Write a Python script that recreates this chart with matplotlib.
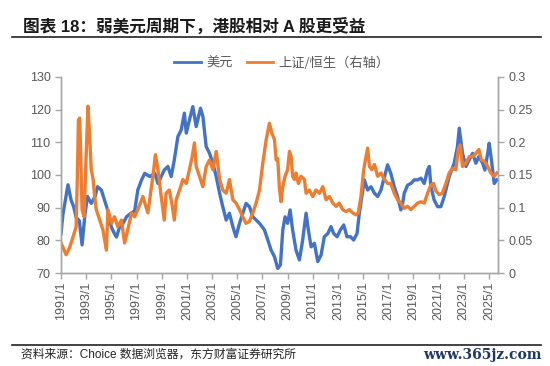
import matplotlib
matplotlib.use("Agg")
import matplotlib.pyplot as plt
from matplotlib.lines import Line2D

plt.rcParams['font.family'] = ['Liberation Sans', 'Noto Sans CJK SC', 'DejaVu Sans']

# US dollar index (left axis)
usd_years = [1991.0, 1991.15, 1991.3, 1991.55, 1991.8, 1992.0, 1992.2, 1992.45, 1992.67, 1992.9,
             1993.1, 1993.4, 1993.7, 1993.9, 1994.2, 1994.45, 1994.7, 1995.0, 1995.25, 1995.4,
             1995.65, 1995.9, 1996.2, 1996.45, 1996.85, 1997.1, 1997.4, 1997.65, 1998.05, 1998.45,
             1998.7, 1998.96, 1999.2, 1999.49, 1999.75, 2000.0, 2000.28, 2000.55, 2000.8, 2000.95,
             2001.2, 2001.47, 2001.74, 2002.08, 2002.27, 2002.53, 2002.8, 2003.06, 2003.33, 2003.6,
             2003.85, 2004.12, 2004.38, 2004.65, 2004.9, 2005.18, 2005.44, 2005.7, 2005.97, 2006.24,
             2006.5, 2006.77, 2007.16, 2007.43, 2007.69, 2007.96, 2008.22, 2008.43, 2008.62, 2008.8,
             2009.0, 2009.2, 2009.4, 2009.67, 2009.94, 2010.2, 2010.47, 2010.65, 2010.87, 2011.13,
             2011.4, 2011.66, 2011.92, 2012.2, 2012.45, 2012.66, 2012.93, 2013.2, 2013.46, 2013.72,
             2014.0, 2014.25, 2014.52, 2014.7, 2014.9, 2015.1, 2015.36, 2015.63, 2015.9, 2016.16,
             2016.42, 2016.7, 2016.95, 2017.2, 2017.48, 2017.74, 2018.0, 2018.14, 2018.27, 2018.54,
             2018.8, 2019.07, 2019.33, 2019.6, 2019.86, 2020.12, 2020.26, 2020.39, 2020.65, 2020.92,
             2021.18, 2021.45, 2021.84, 2022.24, 2022.5, 2022.64, 2022.9, 2023.17, 2023.43, 2023.7,
             2023.96, 2024.2, 2024.5, 2024.68, 2024.9, 2025.02, 2025.2, 2025.42, 2025.63]
usd_values = [82.1, 88.0, 91.3, 97.0, 92.3, 90.3, 87.0, 86.0, 78.6, 88.0,
              93.4, 91.3, 93.4, 96.4, 95.4, 92.3, 89.3, 84.0, 82.0, 81.0,
              84.0, 85.0, 87.2, 88.0, 89.0, 95.4, 98.5, 100.5, 99.5, 100.5,
              97.4, 99.5, 101.5, 102.6, 99.5, 104.6, 111.7, 113.8, 118.9, 112.8,
              116.8, 120.9, 114.8, 120.4, 117.9, 108.7, 106.6, 103.6, 99.5, 94.4,
              90.3, 86.2, 88.3, 84.2, 81.1, 85.2, 88.3, 91.3, 90.3, 87.2,
              86.2, 85.2, 83.2, 80.1, 77.0, 75.0, 71.4, 72.5, 83.2, 87.2,
              85.2, 89.3, 83.2, 77.0, 74.0, 80.1, 88.3, 83.2, 78.0, 79.1,
              73.5, 75.5, 81.1, 82.1, 84.2, 82.1, 81.1, 83.2, 84.7, 81.1,
              81.1, 80.1, 82.1, 88.3, 93.4, 98.5, 95.4, 96.4, 94.4, 93.4,
              95.4, 99.5, 103.1, 100.5, 96.4, 93.4, 89.3, 91.3, 94.4, 96.9,
              97.4, 98.5, 98.5, 99.0, 97.4, 101.5, 102.6, 96.4, 92.3, 90.3,
              90.3, 93.4, 99.5, 103.6, 108.7, 114.3, 106.6, 102.6, 104.6, 106.6,
              103.6, 105.6, 103.6, 101.5, 106.6, 109.7, 104.6, 97.4, 98.5]

# Shanghai Composite / Hang Seng ratio (right axis)
ratio_years = [1991.0, 1991.4, 1991.7, 1991.95, 1992.2, 1992.3, 1992.38, 1992.48, 1992.56, 1992.67,
               1992.83, 1993.0, 1993.14, 1993.27, 1993.4, 1993.55, 1993.67, 1993.8, 1994.07, 1994.33,
               1994.6, 1994.73, 1995.0, 1995.25, 1995.5, 1995.8, 1996.05, 1996.3, 1996.6, 1996.85,
               1997.1, 1997.5, 1997.9, 1998.3, 1998.5, 1998.7, 1998.96, 1999.2, 1999.35, 1999.6,
               1999.8, 2000.0, 2000.15, 2000.42, 2000.68, 2000.95, 2001.2, 2001.4, 2001.6, 2001.74,
               2002.0, 2002.27, 2002.53, 2002.8, 2003.06, 2003.33, 2003.6, 2003.85, 2004.12, 2004.38,
               2004.65, 2004.9, 2005.18, 2005.44, 2005.7, 2005.97, 2006.24, 2006.5, 2006.77, 2007.03,
               2007.3, 2007.56, 2007.75, 2007.96, 2008.09, 2008.22, 2008.35, 2008.48, 2008.62, 2008.8,
               2009.0, 2009.15, 2009.28, 2009.4, 2009.54, 2009.67, 2009.86, 2010.07, 2010.34, 2010.47,
               2010.73, 2011.0, 2011.26, 2011.53, 2011.8, 2012.06, 2012.32, 2012.6, 2012.85, 2013.1,
               2013.38, 2013.64, 2013.9, 2014.17, 2014.44, 2014.62, 2014.83, 2015.05, 2015.23, 2015.36,
               2015.5, 2015.7, 2015.9, 2016.16, 2016.42, 2016.7, 2016.95, 2017.2, 2017.48, 2017.74,
               2018.0, 2018.27, 2018.54, 2018.8, 2019.07, 2019.33, 2019.6, 2019.86, 2020.12, 2020.39,
               2020.6, 2020.8, 2021.05, 2021.3, 2021.58, 2021.84, 2022.1, 2022.37, 2022.56, 2022.72,
               2022.9, 2023.17, 2023.43, 2023.7, 2023.96, 2024.2, 2024.4, 2024.62, 2024.9, 2025.15,
               2025.42, 2025.63]
ratio_values = [0.046, 0.028, 0.040, 0.055, 0.071, 0.150, 0.234, 0.237, 0.183, 0.097,
                0.086, 0.183, 0.255, 0.209, 0.158, 0.143, 0.117, 0.097, 0.081, 0.066,
                0.035, 0.097, 0.076, 0.086, 0.071, 0.081, 0.046, 0.066, 0.092, 0.086,
                0.097, 0.117, 0.092, 0.148, 0.181, 0.158, 0.117, 0.081, 0.122, 0.127,
                0.107, 0.081, 0.112, 0.127, 0.143, 0.137, 0.158, 0.176, 0.199, 0.163,
                0.148, 0.132, 0.163, 0.173, 0.158, 0.186, 0.143, 0.127, 0.122, 0.143,
                0.112, 0.107, 0.097, 0.086, 0.076, 0.079, 0.092, 0.107, 0.127, 0.168,
                0.204, 0.229, 0.214, 0.204, 0.173, 0.175, 0.130, 0.109, 0.132, 0.148,
                0.158, 0.186, 0.178, 0.148, 0.143, 0.153, 0.137, 0.148, 0.143, 0.122,
                0.127, 0.117, 0.127, 0.122, 0.132, 0.112, 0.117, 0.107, 0.102, 0.107,
                0.097, 0.094, 0.097, 0.092, 0.089, 0.092, 0.117, 0.158, 0.178, 0.191,
                0.163, 0.158, 0.166, 0.148, 0.153, 0.143, 0.137, 0.137, 0.122, 0.112,
                0.107, 0.099, 0.102, 0.097, 0.102, 0.107, 0.109, 0.107, 0.122, 0.135,
                0.137, 0.125, 0.120, 0.122, 0.137, 0.153, 0.160, 0.158, 0.189, 0.196,
                0.163, 0.168, 0.178, 0.178, 0.183, 0.189, 0.173, 0.171, 0.163, 0.153,
                0.148, 0.153]

tick_years = list(range(1991, 2026, 2))
tick_labels = [f"{y}/1" for y in tick_years]
left_ticks = [70, 80, 90, 100, 110, 120, 130]
right_ticks = [0, 0.05, 0.1, 0.15, 0.2, 0.25, 0.3]

blue = "#4472C4"
orange = "#ED7D31"
axis_grey = "#A6A6A6"
text_grey = "#595959"

fig = plt.figure(figsize=(5.5, 3.66), dpi=100)
ax = fig.add_axes([0.111, 0.254, 0.794, 0.536])
ax2 = ax.twinx()

ax.plot(usd_years, usd_values, color=blue, lw=2.4, solid_joinstyle="round")
ax2.plot(ratio_years, ratio_values, color=orange, lw=2.4, solid_joinstyle="round")

ax.set_xlim(1991, 2025.7)
ax.set_ylim(70, 130)
ax2.set_ylim(0, 0.3)
ax.set_yticks(left_ticks)
ax.set_yticklabels([str(t) for t in left_ticks])
ax2.set_yticks(right_ticks)
ax2.set_yticklabels([f"{t:g}" for t in right_ticks])
ax.set_xticks(tick_years)
ax.set_xticklabels(tick_labels, rotation=90)

for a in (ax, ax2):
    a.spines["top"].set_visible(False)
    for s in ("left", "right", "bottom"):
        a.spines[s].set_color(axis_grey)
        a.spines[s].set_linewidth(1.0)
    a.tick_params(colors=axis_grey, labelcolor=text_grey, labelsize=9, length=4, width=1)
ax.tick_params(axis="x", pad=2)

# legend
handles = [Line2D([], [], color=blue, lw=2), Line2D([], [], color=orange, lw=2)]
fig.legend(handles, ["美元", "上证/恒生（右轴）"], loc="center", bbox_to_anchor=(0.513, 0.827),
           ncol=2, frameon=False, handlelength=2.0, handletextpad=0.4, columnspacing=1.1,
           labelcolor=text_grey, prop={'family': ['Noto Sans CJK SC'], 'size': 9.5})

# title and footer
fig.text(0.042, 0.93, "图表 18：弱美元周期下，港股相对 A 股更受益", fontsize=12, fontweight="bold",
         color="#1a1a1a", va="center", ha="left")
fig.add_artist(Line2D([0.022, 0.984], [0.9, 0.9], color="#222222", lw=1.2))
fig.add_artist(Line2D([0.022, 0.984], [0.057, 0.057], color="#222222", lw=1.2))
fig.text(0.038, 0.03, "资料来源：Choice 数据浏览器，东方财富证券研究所", fontsize=8.5, color="#222222",
         va="center", ha="left")
fig.text(0.985, 0.03, "www.365jz.com", fontsize=10, color="#1F3864", va="center", ha="right",
         family="DejaVu Serif", fontweight="bold")

fig.savefig("out.png", dpi=100)
